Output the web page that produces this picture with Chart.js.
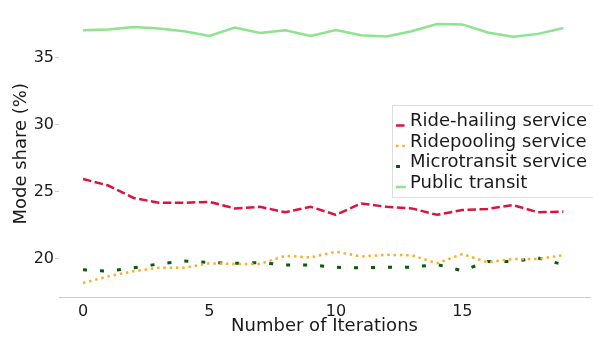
<!DOCTYPE html>
<html>
<head>
<meta charset="utf-8">
<script src="https://cdn.jsdelivr.net/npm/chart.js@4.4.1/dist/chart.umd.min.js"></script>
<style>
  html, body { margin: 0; padding: 0; background: #fff; }
  #wrap { width: 593px; height: 338px; }
</style>
</head>
<body>
<div id="wrap"><canvas id="c" width="593" height="338"></canvas></div>
<script>
const iterations = [0,1,2,3,4,5,6,7,8,9,10,11,12,13,14,15,16,17,18,19];
const rideHailing = [25.94,25.45,24.52,24.16,24.16,24.23,23.74,23.86,23.45,23.86,23.26,24.11,23.86,23.74,23.26,23.62,23.70,23.99,23.45,23.50];
const ridepooling = [18.17,18.66,19.05,19.30,19.30,19.64,19.59,19.59,20.20,20.08,20.50,20.15,20.27,20.24,19.64,20.33,19.71,19.96,19.96,20.25];
const microtransit = [19.15,19.05,19.30,19.59,19.81,19.69,19.64,19.69,19.52,19.52,19.34,19.30,19.34,19.35,19.55,19.08,19.78,19.78,20.03,19.54];
const publicTransit = [37.05,37.10,37.29,37.18,36.98,36.63,37.25,36.85,37.05,36.63,37.07,36.68,36.59,36.98,37.51,37.49,36.88,36.56,36.78,37.22];
const xTicks = [0,5,10,15];
const yTicks = [20,25,30,35];
const seriesNames = ['Ride-hailing service','Ridepooling service','Microtransit service','Public transit'];

const colors = ['#dc143c', '#f6b02a', '#0b5a12', '#8ee38e'];
const dashes = [[8.5,3.5],[2.5,3.8],[4,13],[]];
const widths = [2.5, 2.5, 3, 2.5];

const toPts = arr => arr.map((v,i) => ({x: iterations[i], y: v}));
const allSeries = [rideHailing, ridepooling, microtransit, publicTransit];

const legendPlugin = {
  id: 'innerLegend',
  afterDraw(chart) {
    const ctx = chart.ctx;
    const bx = 392, by = 105, bw = 203, bh = 92;
    ctx.save();
    ctx.fillStyle = 'rgba(255,255,255,0.85)';
    ctx.fillRect(bx, by, bw, bh);
    ctx.strokeStyle = '#dddddd';
    ctx.lineWidth = 1;
    ctx.strokeRect(bx + 0.5, by + 0.5, bw, bh);
    const rows = [121.5, 142, 162.5, 183];
    ctx.font = '18px "DejaVu Sans"';
    ctx.textBaseline = 'middle';
    ctx.textAlign = 'left';
    seriesNames.forEach((name, i) => {
      const y = rows[i];
      ctx.beginPath();
      ctx.setLineDash(i === 2 ? [4, 6] : dashes[i]);
      ctx.strokeStyle = colors[i];
      ctx.lineWidth = widths[i];
      ctx.moveTo(396, y + 4);
      ctx.lineTo(406, y + 4);
      ctx.stroke();
      ctx.setLineDash([]);
      ctx.fillStyle = '#1a1a1a';
      ctx.fillText(name, 410, y);
    });
    ctx.restore();
  }
};

const bgPlugin = {
  id: 'bg',
  beforeDraw(chart) {
    const ctx = chart.ctx;
    ctx.save();
    ctx.fillStyle = '#fff';
    ctx.fillRect(0, 0, chart.width, chart.height);
    ctx.restore();
  }
};

new Chart(document.getElementById('c'), {
  type: 'line',
  data: {
    datasets: allSeries.map((s, i) => ({
      label: seriesNames[i],
      data: toPts(s),
      borderColor: colors[i],
      backgroundColor: colors[i],
      borderWidth: widths[i],
      borderDash: dashes[i],
      borderCapStyle: 'butt',
      pointRadius: 0,
      tension: 0,
      fill: false
    }))
  },
  options: {
    responsive: false,
    animation: false,
    devicePixelRatio: 1,
    layout: { padding: { top: 5, right: 3, left: 0, bottom: 0 } },
    plugins: { legend: { display: false }, tooltip: { enabled: false } },
    scales: {
      x: {
        type: 'linear',
        min: -0.95,
        max: 20.05,
        afterBuildTicks: s => { s.ticks = xTicks.map(v => ({value: v})); },
        afterFit: s => { s.height = 41; },
        ticks: { font: { family: 'DejaVu Sans', size: 16 }, color: '#1a1a1a', padding: 5, maxRotation: 0 },
        grid: { display: true, drawOnChartArea: false, drawTicks: false, color: '#cccccc' },
        border: { display: true, color: '#cccccc', width: 1 },
        title: { display: true, text: 'Number of Iterations', font: { family: 'DejaVu Sans', size: 18 }, color: '#1a1a1a', padding: { top: 0, bottom: 1 } }
      },
      y: {
        min: 17.12,
        max: 38.52,
        afterBuildTicks: s => { s.ticks = yTicks.map(v => ({value: v})); },
        afterFit: s => { s.width = 59; },
        ticks: { font: { family: 'DejaVu Sans', size: 16 }, color: '#1a1a1a', padding: 1 },
        grid: { display: true, drawOnChartArea: false, drawTicks: true, tickLength: 4, color: '#cccccc' },
        border: { display: false },
        title: { display: true, text: 'Mode share (%)', font: { family: 'DejaVu Sans', size: 18 }, color: '#1a1a1a', padding: { top: 11, bottom: 0 } }
      }
    }
  },
  plugins: [bgPlugin, legendPlugin]
});
</script>
</body>
</html>
